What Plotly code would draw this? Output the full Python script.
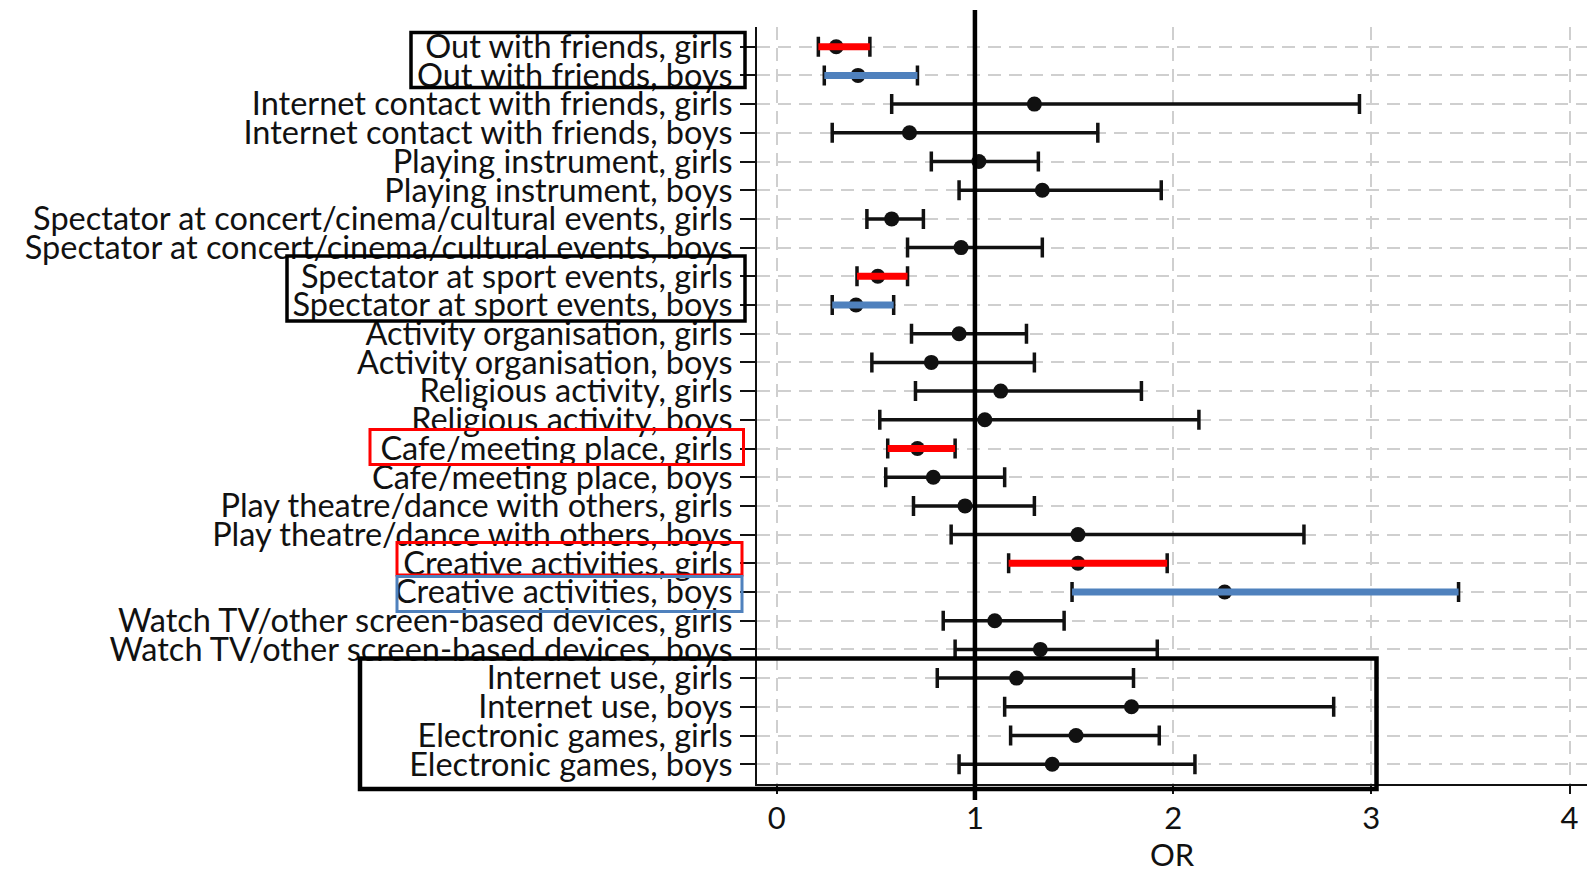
import plotly.graph_objects as go

labels = [
    "Out with friends, girls", "Out with friends, boys",
    "Internet contact with friends, girls", "Internet contact with friends, boys",
    "Playing instrument, girls", "Playing instrument, boys",
    "Spectator at concert/cinema/cultural events, girls",
    "Spectator at concert/cinema/cultural events, boys",
    "Spectator at sport events, girls", "Spectator at sport events, boys",
    "Activity organisation, girls", "Activity organisation, boys",
    "Religious activity, girls", "Religious activity, boys",
    "Cafe/meeting place, girls", "Cafe/meeting place, boys",
    "Play theatre/dance with others, girls", "Play theatre/dance with others, boys",
    "Creative activities, girls", "Creative activities, boys",
    "Watch TV/other screen-based devices, girls", "Watch TV/other screen-based devices, boys",
    "Internet use, girls", "Internet use, boys",
    "Electronic games, girls", "Electronic games, boys",
]
odds_ratio = [0.30, 0.41, 1.30, 0.67, 1.02, 1.34, 0.58, 0.93, 0.51, 0.40, 0.92, 0.78, 1.13,
              1.05, 0.71, 0.79, 0.95, 1.52, 1.52, 2.26, 1.10, 1.33, 1.21, 1.79, 1.51, 1.39]
ci_low = [0.21, 0.24, 0.58, 0.28, 0.78, 0.92, 0.455, 0.66, 0.405, 0.28, 0.68, 0.48, 0.70,
          0.52, 0.56, 0.55, 0.69, 0.88, 1.17, 1.49, 0.84, 0.90, 0.81, 1.15, 1.18, 0.92]
ci_high = [0.47, 0.71, 2.94, 1.62, 1.32, 1.94, 0.74, 1.34, 0.66, 0.59, 1.26, 1.30, 1.84,
           2.13, 0.90, 1.15, 1.30, 2.66, 1.97, 3.44, 1.45, 1.92, 1.80, 2.81, 1.93, 2.11]
highlight = ["red", "blue", None, None, None, None, None, None, "red", "blue", None, None, None,
             None, "red", None, None, None, "red", "blue", None, None, None, None, None, None]
x_ticks = [0, 1, 2, 3, 4]

RED = "#FF0000"
BLUE = "#4F81BD"
COLORS = {"red": RED, "blue": BLUE}

rows = list(range(1, len(labels) + 1))

fig = go.Figure()
fig.add_trace(go.Scatter(
    x=odds_ratio, y=rows, mode="markers",
    marker=dict(color="#111111", size=15),
    error_x=dict(type="data", symmetric=False,
                 array=[h - o for h, o in zip(ci_high, odds_ratio)],
                 arrayminus=[o - l for o, l in zip(odds_ratio, ci_low)],
                 color="#111111", thickness=3.5, width=10),
    showlegend=False, hoverinfo="skip",
))

for key, col in COLORS.items():
    xs, ys = [], []
    for r, l, h, c in zip(rows, ci_low, ci_high, highlight):
        if c == key:
            xs += [l, h, None]
            ys += [r, r, None]
    fig.add_trace(go.Scatter(x=xs, y=ys, mode="lines", line=dict(color=col, width=7),
                             showlegend=False, hoverinfo="skip"))

# plot area in pixels
L, R, T, B = 757, 1587, 27, 784
def px(x):
    return (x - L) / (R - L)
def py(y):
    return (B - y) / (B - T)

shapes = []
# reference line at OR = 1
shapes.append(dict(type="line", xref="x", yref="paper", x0=1, x1=1, y0=py(800), y1=py(10),
                   line=dict(color="black", width=4.5), layer="above"))
boxes = [
    (411, 32.5, 745, 87.5, "black", 3.5),
    (287, 256, 745, 321, "black", 3.5),
    (370, 429.5, 743.5, 464.5, RED, 3),
    (397, 542.5, 742, 575, RED, 3),
    (397, 576.5, 742, 611.5, BLUE, 3),
    (360, 658.5, 1376.5, 789, "black", 4.5),
]
for x0, y0, x1, y1, c, w in boxes:
    shapes.append(dict(type="rect", xref="paper", yref="paper",
                       x0=px(x0), x1=px(x1), y0=py(y1), y1=py(y0),
                       line=dict(color=c, width=w), fillcolor="rgba(0,0,0,0)", layer="above"))

FONT = "Lato"
fig.update_layout(
    width=1587, height=873,
    margin=dict(l=L, r=1587 - R, t=T, b=873 - B),
    paper_bgcolor="white", plot_bgcolor="white",
    font=dict(family=FONT, color="#111111"),
    shapes=shapes,
    xaxis=dict(range=[-0.0995, 4.088], tickvals=x_ticks, ticktext=[str(v) for v in x_ticks],
               automargin=False,
               showgrid=True, gridcolor="#CFCFCF", gridwidth=2, griddash="13px,8px",
               zeroline=False, showline=True, linecolor="#111111", linewidth=2,
               ticks="outside", ticklen=8, tickwidth=2, tickcolor="#111111",
               tickfont=dict(size=31, family=FONT), ticklabelstandoff=-2,
               title=dict(text="OR", font=dict(size=31, family=FONT), standoff=22)),
    yaxis=dict(range=[26.69, 0.313], tickvals=rows, ticktext=labels,
               automargin=False,
               showgrid=True, gridcolor="#CFCFCF", gridwidth=2, griddash="13px,8px",
               zeroline=False, showline=True, linecolor="#111111", linewidth=2,
               ticks="outside", ticklen=15, tickwidth=2, tickcolor="#111111",
               tickfont=dict(size=32.5, family=FONT), ticklabelstandoff=1),
)

fig.write_html("out.html", config={"displayModeBar": False},
               post_script="document.body.style.margin='0';")
